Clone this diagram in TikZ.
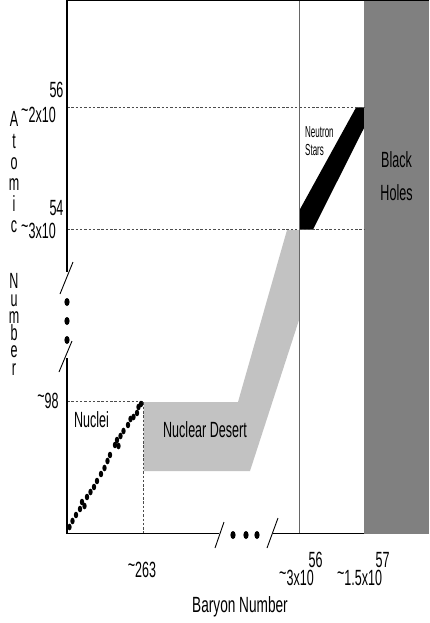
\documentclass[tikz,border=0pt]{standalone}
\usepackage{fontspec}
\setmainfont{Liberation Sans}[FakeStretch=0.57]
\newfontfamily\narrowfont{Liberation Sans}[FakeStretch=0.5]
\newfontfamily\widefont{Liberation Sans}[FakeStretch=0.62]
\definecolor{desert}{gray}{0.76}
\definecolor{bhole}{gray}{0.5}
\newcommand{\tl}{\raisebox{0.22em}{\textasciitilde}}
\begin{document}
\begin{tikzpicture}[x=1pt,y=-1pt,
  lbl/.style={font=\fontsize{22}{24}\selectfont, inner sep=0pt, anchor=base},
  smalllbl/.style={font=\narrowfont\fontsize{16}{18}\selectfont, inner sep=0pt, anchor=base west},
  axisline/.style={line width=1.2pt},
  breakline/.style={line width=0.9pt},
  guide/.style={dash pattern=on 2.5pt off 1.8pt, line width=0.6pt, draw=black!70},
]
\useasboundingbox (0,0) rectangle (429,623);
% regions
\fill[desert] (143.5,402) -- (238,402) -- (287,230) -- (299,230) -- (299,320) -- (250,471) -- (143.5,471) -- cycle;
\fill[black] (299,229.5) -- (313,229.5) -- (364,128) -- (364,107.5) -- (356,107.5) -- (299,211) -- cycle;
\fill[bhole] (364,0) rectangle (429,534);
% guides
\draw[guide] (67,107.5) -- (364,107.5);
\draw[guide] (67,229) -- (364,229);
\draw[guide] (67,401) -- (143,401) -- (143,533);
\draw[line width=0.7pt, black!60] (299.5,0) -- (299.5,533);
% axes
\draw[axisline] (67,0.7) -- (429,0.7);
\draw[axisline] (67,0) -- (67,272);
\draw[axisline] (67,358) -- (67,533.5) -- (219,533.5);
\draw[axisline] (273,533.5) -- (364,533.5);
\draw[breakline] (60,294) -- (73,262);
\draw[breakline] (59,372) -- (72,341);
\draw[breakline] (215,548) -- (224,522);
\draw[breakline] (267,548) -- (278,518);
\foreach \p in {(67,302),(67,321),(67,340),(233,535),(246,535),(257,535)}
  \fill \p ellipse [x radius=2.6pt, y radius=4pt];
% nuclei
\foreach \p in {(69.5,527),(72.5,521),(76,515),(80,509),(82,502),(84.5,506),(87,497),(90.5,492),(94,487),(97,481),(101,474),(104.5,468),(107.5,461),(110,455),(115,445),(118.5,446),(117,440),(120.5,436),(123.5,431),(128,425),(130.5,419),(133.5,417),(137,413),(138.5,407),(141,404)}
  \fill \p ellipse [x radius=2.2pt, y radius=3.3pt];
% y labels
\node[lbl] (ysup1) at (56.5,98) {56};
\node[lbl] (yval1) at (38.5,122) {\tl 2x10};
\node[lbl] (ysup2) at (56.5,215) {54};
\node[lbl] (yval2) at (38.5,238) {\tl 3x10};
\node[lbl] (yval3) at (48,408) {\tl 98};
% x labels
\node[lbl] (xval1) at (142,577) {\tl 263};
\node[lbl] (xsup2) at (315.5,567) {56};
\node[lbl] (xval2) at (296.5,585) {\tl 3x10};
\node[lbl] (xsup3) at (382.5,567) {57};
\node[lbl] (xval3) at (359.5,585) {\tl 1.5x10};
\node[lbl, font=\widefont\fontsize{22}{24}\selectfont] (xtitle) at (240,612) {Baryon Number};
% region labels
\node[lbl] (nuclei) at (91.5,427) {Nuclei};
\node[lbl] (desert) at (205,437) {Nuclear Desert};
\node[smalllbl] (ns1) at (305,137) {Neutron};
\node[smalllbl] (ns2) at (305,155) {Stars};
\node[lbl] (bh1) at (396.5,167) {Black};
\node[lbl] (bh2) at (396.5,200) {Holes};
% y title
\foreach \c/\yy [count=\i] in {A/127,t/148,o/169,m/190,i/211,c/232,N/288,u/306,m/323,b/340,e/357,r/375}
  \node[lbl] (yt\i) at (14,\yy) {\c};
\end{tikzpicture}
\end{document}
